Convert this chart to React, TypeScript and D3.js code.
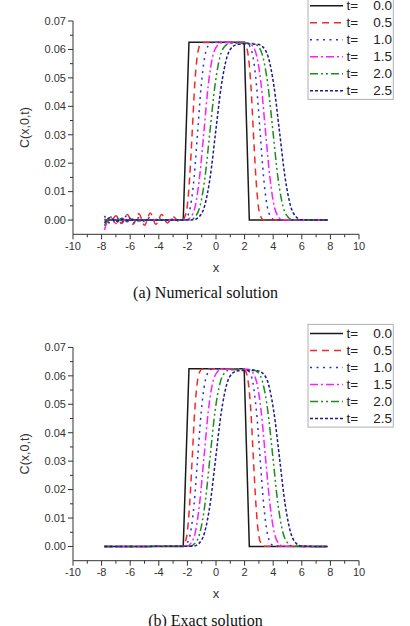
import * as d3 from "d3";
import React from "react";

type Pt = [number, number];

const width = 410;
const height = 626;

// legend entries
const times = ["0.0", "0.5", "1.0", "1.5", "2.0", "2.5"];
const colors = ["#1a1a1a", "#f02a2a", "#2b2be8", "#ff1cff", "#1e8c1e", "#1d1d8c"];
const dashes = ["", "7,5", "2,4.5", "8,3,2,3", "8,3,2,3,2,3", "3,2"];

const xTicks = [-10, -8, -6, -4, -2, 0, 2, 4, 6, 8, 10];
const yTicks = [0, 0.01, 0.02, 0.03, 0.04, 0.05, 0.06, 0.07];

// concentration profiles in the pulse region, one per time
const pulse00: Pt[] = [[-7.8, 0], [-2.29, 0], [-1.89, 0.0625], [1.97, 0.0625], [2.33, 0], [7.8, 0]];
const pulse05: Pt[] = [
  [-2.36, 0.0001], [-2.19, 0.0011], [-2.01, 0.0049], [-1.84, 0.015], [-1.66, 0.0313], [-1.49, 0.0475],
  [-1.31, 0.0576], [-1.14, 0.0614], [-0.96, 0.0624], [0.48, 0.0625], [1.91, 0.0624], [2.09, 0.0614],
  [2.26, 0.0576], [2.44, 0.0475], [2.61, 0.0313], [2.79, 0.015], [2.96, 0.0049], [3.14, 0.0011], [3.31, 0.0001],
];
const pulse10: Pt[] = [
  [-2.28, 0.0001], [-2.03, 0.0011], [-1.78, 0.0049], [-1.53, 0.015], [-1.28, 0.0313], [-1.03, 0.0475],
  [-0.78, 0.0576], [-0.53, 0.0614], [-0.28, 0.0624], [0.9, 0.0625], [2.08, 0.0624], [2.33, 0.0614],
  [2.58, 0.0576], [2.83, 0.0475], [3.08, 0.0313], [3.33, 0.015], [3.58, 0.0049], [3.83, 0.0011], [4.08, 0.0001],
];
const pulse15: Pt[] = [
  [-2.06, 0.0001], [-1.76, 0.0011], [-1.45, 0.0049], [-1.15, 0.015], [-0.84, 0.0313], [-0.54, 0.0475],
  [-0.23, 0.0576], [0.08, 0.0613], [0.38, 0.0623], [1.31, 0.0624], [2.24, 0.0623], [2.55, 0.0613],
  [2.85, 0.0576], [3.16, 0.0475], [3.46, 0.0313], [3.77, 0.015], [4.07, 0.0049], [4.38, 0.0011], [4.68, 0.0001],
];
const pulse20: Pt[] = [
  [-1.82, 0.0001], [-1.47, 0.0011], [-1.12, 0.0049], [-0.77, 0.015], [-0.42, 0.0313], [-0.07, 0.0474],
  [0.28, 0.0574], [0.63, 0.0612], [0.98, 0.0621], [1.78, 0.0622], [2.58, 0.0621], [2.93, 0.0612],
  [3.28, 0.0574], [3.63, 0.0474], [3.98, 0.0313], [4.33, 0.015], [4.68, 0.0049], [5.03, 0.0011], [5.38, 0.0001],
];
const pulse25: Pt[] = [
  [-1.58, 0.0001], [-1.19, 0.0011], [-0.8, 0.0049], [-0.41, 0.015], [-0.02, 0.0312], [0.37, 0.0472],
  [0.76, 0.0572], [1.15, 0.0609], [1.54, 0.0618], [2.21, 0.0619], [2.88, 0.0618], [3.27, 0.0609],
  [3.66, 0.0572], [4.05, 0.0472], [4.44, 0.0312], [4.83, 0.015], [5.22, 0.0049], [5.61, 0.0011], [6.0, 0.0001],
];
const pulses = [pulse00, pulse05, pulse10, pulse15, pulse20, pulse25];

// upstream oscillations of the numerical scheme (x = -7.8 ... -2.6)
const tailX = [-7.8, -7.4, -7.0, -6.6, -6.2, -5.8, -5.4, -5.0, -4.6, -4.2, -3.8, -3.4, -3.0, -2.6];
const tail05 = [0.0005, -0.001, 0.0015, -0.0012, 0.002, -0.0015, 0.0022, -0.0018, 0.0025, -0.0015, 0.002, -0.001, 0.0012, -0.0005];
const tail10 = [0.0015, -0.001, 0.0012, -0.0008, 0.0018, -0.001, 0.0008, -0.0005, 0.001, -0.0004, 0.0006, -0.0003, 0.0004, 0];
const tail15 = [-0.0035, 0.001, -0.0012, 0.0008, -0.0006, 0.0005, -0.0004, 0.0003, -0.0002, 0.0002, 0, 0, 0, 0];
const tail20 = [-0.002, 0.0012, -0.001, 0.0006, -0.0005, 0.0003, -0.0002, 0.0002, 0, 0, 0, 0, 0, 0];
const tail25 = [-0.001, 0.0008, -0.0005, 0.0003, -0.0002, 0.0001, 0, 0, 0, 0, 0, 0, 0, 0];
const numericTails = [null, tail05, tail10, tail15, tail20, tail25];

const x = d3.scaleLinear().domain([-10, 10]).range([73, 359]);
const y = d3.scaleLinear().domain([-0.005, 0.07]).range([234.3, 21]);

const smooth = d3.line<Pt>().x((d) => x(d[0])).y((d) => y(d[1])).curve(d3.curveMonotoneX);
const straight = d3.line<Pt>().x((d) => x(d[0])).y((d) => y(d[1]));

const sans = "'Liberation Sans', Arial, sans-serif";
const axisColor = "#333";

function seriesFor(i: number, numeric: boolean): Pt[] {
  if (i === 0) return pulses[0];
  const tail = numeric ? numericTails[i] : null;
  const head: Pt[] = tail ? tailX.map((v, k) => [v, tail[k]] as Pt) : [[-7.8, 0]];
  return [...head, ...pulses[i], [7.8, 0]];
}

const Panel: React.FC<{ top: number; legendY: number; captionY: number; caption: string; numeric: boolean }> = (p) => {
  const x0 = x.range()[0];
  const yb = y.range()[0];
  const minorX = d3.range(-9, 10, 2);
  const minorY = d3.range(0.005, 0.07, 0.01);
  const boxTop = p.legendY - 9;
  const boxBottom = p.legendY + 5 * 17 + 8.7;
  return (
    <g transform={`translate(0,${p.top})`}>
      {/* axes */}
      <line x1={x0} x2={x0} y1={y(0.07)} y2={yb} stroke={axisColor} />
      <line x1={x0} x2={x.range()[1]} y1={yb} y2={yb} stroke={axisColor} />
      {yTicks.map((t) => (
        <g key={t}>
          <line x1={x0 - 5} x2={x0} y1={y(t)} y2={y(t)} stroke={axisColor} />
          <text x={x0 - 7} y={y(t)} dy="0.35em" textAnchor="end" fontSize={11} fill={axisColor} fontFamily={sans}>
            {t.toFixed(2)}
          </text>
        </g>
      ))}
      {minorY.map((t) => (
        <line key={t} x1={x0 - 3} x2={x0} y1={y(t)} y2={y(t)} stroke={axisColor} />
      ))}
      {xTicks.map((t) => (
        <g key={t}>
          <line x1={x(t)} x2={x(t)} y1={yb} y2={yb + 5} stroke={axisColor} />
          <text x={x(t)} y={246} dy="0.35em" textAnchor="middle" fontSize={11} fill={axisColor} fontFamily={sans}>
            {t}
          </text>
        </g>
      ))}
      {minorX.map((t) => (
        <line key={t} x1={x(t)} x2={x(t)} y1={yb} y2={yb + 3} stroke={axisColor} />
      ))}
      <text x={216} y={267} dy="0.35em" textAnchor="middle" fontSize={13} fill={axisColor} fontFamily={sans}>
        x
      </text>
      <text
        transform={`translate(25,127.5) rotate(-90)`}
        dy="0.35em"
        textAnchor="middle"
        fontSize={12.5}
        fill={axisColor}
        fontFamily={sans}
      >
        C(x,0,t)
      </text>

      {/* curves */}
      {times.map((_, i) => (
        <path
          key={i}
          d={(i === 0 ? straight : smooth)(seriesFor(i, p.numeric)) || ""}
          fill="none"
          stroke={colors[i]}
          strokeWidth={1.5}
          strokeDasharray={dashes[i] || undefined}
        />
      ))}

      {/* legend */}
      <rect x={308} y={boxTop} width={85.3} height={boxBottom - boxTop} fill="#fff" stroke="#b0b0b0" strokeWidth={1} />
      {times.map((t, i) => {
        const ly = p.legendY + i * 17;
        return (
          <g key={t}>
            <line x1={310} x2={343} y1={ly} y2={ly} stroke={colors[i]} strokeWidth={1.5} strokeDasharray={dashes[i] || undefined} />
            <text x={346.5} y={ly} dy="0.35em" fontSize={13.5} fill="#222" fontFamily={sans}>
              t=
            </text>
            <text x={392} y={ly} dy="0.35em" textAnchor="end" fontSize={13.5} fill="#222" fontFamily={sans}>
              {t}
            </text>
          </g>
        );
      })}

      <text
        x={205.5}
        y={p.captionY}
        dy="0.3em"
        textAnchor="middle"
        fontSize={16}
        fill="#111"
        fontFamily="'Liberation Serif', 'Times New Roman', serif"
      >
        {p.caption}
      </text>
    </g>
  );
};

export default function App() {
  return (
    <svg
      width={width}
      height={height}
      viewBox={`0 0 ${width} ${height}`}
      style={{ position: "absolute", left: 0, top: 0, background: "#fff" }}
    >
      <Panel top={0} legendY={5.7} captionY={293} caption="(a) Numerical solution" numeric={true} />
      <Panel top={326.4} legendY={7} captionY={294.6} caption="(b) Exact solution" numeric={false} />
    </svg>
  );
}
